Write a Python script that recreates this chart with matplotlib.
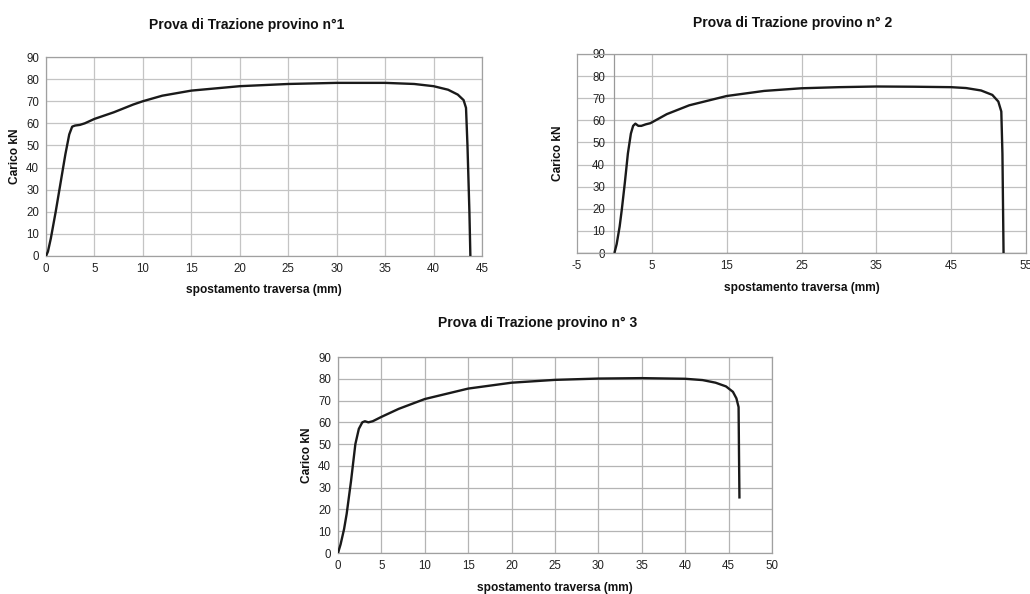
import matplotlib
matplotlib.use("Agg")
import matplotlib.pyplot as plt
import matplotlib.transforms as mt
import numpy as np

plt.rcParams['font.family'] = ['Liberation Sans', 'DejaVu Sans']
plt.rcParams['axes.unicode_minus'] = False

titles = ["Prova di Trazione provino n°1", "Prova di Trazione provino n° 2", "Prova di Trazione provino n° 3"]
xlabel = "spostamento traversa (mm)"
ylabel = "Carico kN"

x1 = [0, 0.2, 0.5, 1.0, 1.5, 2.0, 2.4, 2.7, 3.0, 3.5, 4.0, 5.0, 7.0, 9.0, 10.0, 12.0, 15.0, 20.0, 25.0, 30.0, 35.0, 38.0, 40.0, 41.5, 42.5, 43.1, 43.35, 43.5, 43.7, 43.8]
y1 = [0, 2, 8, 20, 33, 46, 55, 58.5, 59, 59.3, 60, 62, 65, 68.5, 70, 72.5, 74.8, 76.8, 77.8, 78.3, 78.3, 77.8, 76.8, 75.2, 73, 70.5, 67, 50, 20, 0]

x2 = [0, 0.3, 0.7, 1.0, 1.4, 1.8, 2.2, 2.5, 2.8, 3.2, 3.6, 4.2, 4.8, 5.5, 7.0, 10.0, 15.0, 20.0, 25.0, 30.0, 35.0, 40.0, 45.0, 47.0, 49.0, 50.5, 51.3, 51.7, 51.85, 52.0]
y2 = [0, 4, 12, 20, 32, 45, 54, 57.5, 58.5, 57.5, 57.5, 58.2, 58.7, 60, 62.8, 66.8, 71, 73.3, 74.5, 75, 75.3, 75.2, 75, 74.6, 73.5, 71.5, 68.5, 64, 45, 0]

x3 = [0, 0.3, 0.7, 1.0, 1.5, 2.0, 2.4, 2.8, 3.1, 3.5, 4.0, 5.0, 7.0, 10.0, 15.0, 20.0, 25.0, 30.0, 35.0, 40.0, 42.0, 43.5, 44.7, 45.5, 45.9, 46.15, 46.2, 46.25]
y3 = [0, 4, 11, 18, 33, 50, 57, 60, 60.5, 60, 60.5, 62.5, 66.2, 70.7, 75.5, 78.2, 79.5, 80.1, 80.3, 80, 79.4, 78.2, 76.5, 74, 71, 67, 45, 25]

fig = plt.figure(figsize=(10.30, 5.94), dpi=100)


def px(l, t, r, b):
    return [l / 1030, 1 - b / 594, (r - l) / 1030, (b - t) / 594]


axes = [fig.add_axes(px(46, 57, 482, 256)),
        fig.add_axes(px(577, 54, 1026, 253)),
        fig.add_axes(px(338, 357, 772, 553))]

datasets = [(x1, y1), (x2, y2), (x3, y3)]
xlims = [(0, 45), (-5, 55), (0, 50)]
xticks = [np.arange(0, 46, 5), np.arange(-5, 56, 10), np.arange(0, 51, 5)]
title_pos = [(0.461, 1.161), (0.480, 1.156), (0.461, 1.173)]
ylab_x = [-0.071, -0.042, -0.071]
xlab_y = [-0.171, -0.176, -0.179]
grid_col = ['#c4c4c4', '#c0c0c0', '#b4b4b4']

for i, ax in enumerate(axes):
    xs, ys = datasets[i]
    ax.plot(xs, ys, color='#1a1a1a', lw=1.7, solid_capstyle='butt', zorder=3)
    ax.set_xlim(*xlims[i])
    ax.set_ylim(0, 90)
    ax.set_xticks(xticks[i])
    ax.set_yticks(np.arange(0, 91, 10))
    ax.grid(True, color=grid_col[i], lw=0.9)
    ax.set_axisbelow(True)
    for s in ax.spines.values():
        s.set_color('#a0a0a0')
        s.set_linewidth(0.9)
    ax.tick_params(length=0, labelsize=8.3, colors='#222222', pad=5)
    ax.text(title_pos[i][0], title_pos[i][1], titles[i], transform=ax.transAxes,
            fontsize=10, fontweight='bold', ha='center', va='center', color='#111111')
    ax.set_xlabel(xlabel, fontsize=8.6, fontweight='bold', color='#111111')
    ax.set_ylabel(ylabel, fontsize=8.6, fontweight='bold', color='#111111')
    ax.xaxis.set_label_coords(0.5, xlab_y[i])
    ax.yaxis.set_label_coords(ylab_x[i], 0.5)
    ax.xaxis.label.set_va('center')
    ax.yaxis.label.set_va('center')

# panel 2: vertical axis drawn at x = 0, tick labels next to it
ax2 = axes[1]
ax2.grid(False)
for xv in [5, 15, 25, 35, 45]:
    ax2.axvline(xv, color=grid_col[1], lw=0.9, zorder=0)
for yv in range(10, 91, 10):
    ax2.axhline(yv, color=grid_col[1], lw=0.9, zorder=0)
ax2.axvline(0, color='#999999', lw=0.9, zorder=1)
ax2.axhline(0, color='#555555', lw=0.9, zorder=1)
off = mt.ScaledTranslation(28 / 100, 0, fig.dpi_scale_trans)
for lab in ax2.get_yticklabels():
    lab.set_transform(ax2.get_yaxis_transform(which='tick1') + off)

fig.savefig("out.png", dpi=100)
